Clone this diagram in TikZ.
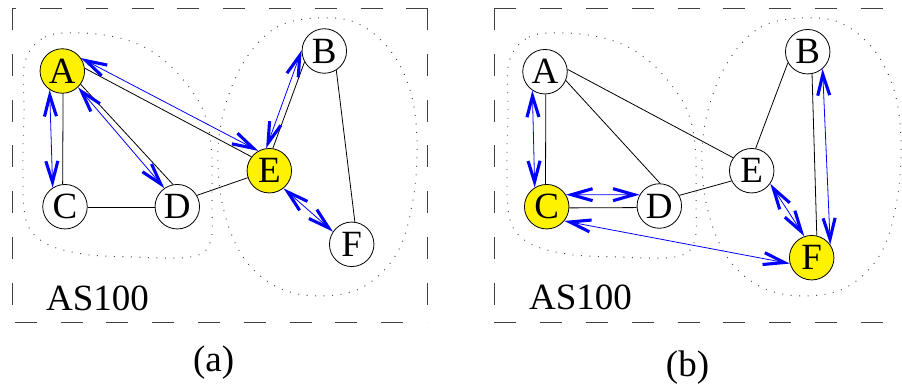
\documentclass[tikz,border=0pt]{standalone}
\usepackage{fontspec}
\setmainfont{Liberation Serif}
\usetikzlibrary{arrows.meta}
\tikzset{
  vnode/.style={circle, draw, line width=0.8pt, minimum size=44.5pt, inner sep=0pt,
                font=\fontsize{37}{37}\selectfont},
  hot/.style={vnode, fill=yellow},
  link/.style={line width=0.8pt},
  bhead/.tip={Straight Barb[length=21pt,width=12pt,line width=3.1pt]},
  barrow/.style={blue, line width=0.8pt, bhead-bhead},
  boxframe/.style={draw=black!75, line width=1pt, dash pattern=on 22pt off 23.8pt},
  cluster/.style={draw=black!70, line width=1pt, dash pattern=on 0.9pt off 7.6pt},
  lbl/.style={font=\fontsize{37}{37}\selectfont, inner sep=0pt, anchor=base west},
}
\begin{document}
\begin{tikzpicture}[x=1pt,y=-1pt]
\useasboundingbox (0,0) rectangle (902,389);

% ---------------- panel (a) ----------------
\draw[boxframe, dash phase=17.8pt] (12,8) -- (427,8);
\draw[boxframe] (12,8) -- (12,322);
\draw[boxframe, dash phase=43pt] (12,322) -- (427,322);
\draw[boxframe] (427,8) -- (427,322);

\draw[cluster] plot[smooth cycle, tension=0.6] coordinates {
 (25,62) (45,37) (83,33) (127,40) (160,57) (185,82) (203,110) (211,145)
 (212,200) (210,243) (190,257) (133,257) (83,254) (45,243) (26,220) (23,170) (24,110)};
\draw[cluster] plot[smooth cycle, tension=0.6] coordinates {
 (247,57) (277,27) (317,18) (357,23) (390,50) (410,90) (417,140) (413,200)
 (397,253) (363,287) (320,296) (277,287) (243,257) (223,207) (218,150) (227,100)};

\node[hot]   (A) at (62.3,71)    {A};
\node[vnode] (B) at (324.3,51)   {B};
\node[vnode] (C) at (65,206.7)   {C};
\node[vnode] (D) at (177.3,206.7){D};
\node[hot]   (E) at (269.3,170.7){E};
\node[vnode] (F) at (351.7,244.3){F};

\draw[link] (A.-88) -- (C.96);
\draw[link] (A.-36) -- (D.101);
\draw[link] (A.7) -- (E.142);
\draw[link] (C.-3) -- (D.183);
\draw[link] (D.30) -- (E.-162);
\draw[link] (E.81) -- (B.-151);
\draw[link] (B.-58) -- (F.82);

\draw[barrow] (A.-124) -- (C.123);
\draw[barrow] (A.-46) -- (D.125);
\draw[barrow] (A.35) -- (E.119);
\draw[barrow] (E.98) -- (B.178);
\draw[barrow] (E.-51) -- (F.146);

\node[lbl] (asa) at (46,310) {AS100};
\node[lbl, anchor=base] (capa) at (213.7,371.6) {(a)};

% ---------------- panel (b) ----------------
\draw[boxframe] (494.3,8) -- (920,8);
\draw[boxframe] (494.3,8) -- (494.3,322);
\draw[boxframe] (494.3,322) -- (920,322);

\begin{scope}[xshift=484pt]
\draw[cluster] plot[smooth cycle, tension=0.6] coordinates {
 (25,62) (45,37) (83,33) (127,40) (160,57) (185,82) (203,110) (211,145)
 (212,200) (210,243) (190,257) (133,257) (83,254) (45,243) (26,220) (23,170) (24,110)};
\draw[cluster] plot[smooth cycle, tension=0.6] coordinates {
 (247,57) (277,27) (317,18) (357,23) (390,50) (410,90) (417,140) (413,200)
 (397,253) (363,287) (320,296) (277,287) (243,257) (223,207) (218,150) (227,100)};
\end{scope}

\node[vnode] (A2) at (545,71.7)   {A};
\node[vnode] (B2) at (807.7,51.7) {B};
\node[hot]   (C2) at (546.7,206.7){C};
\node[vnode] (D2) at (659.3,206)  {D};
\node[vnode] (E2) at (751.7,170.7){E};
\node[hot]   (F2) at (811.7,257.7){F};

\draw[link] (A2.-88) -- (C2.93);
\draw[link] (A2.-23) -- (D2.88);
\draw[link] (A2.6) -- (E2.145);
\draw[link] (C2.-3) -- (D2.-176);
\draw[link] (D2.28) -- (E2.-153);
\draw[link] (E2.80) -- (B2.-151);
\draw[link] (B2.-79) -- (F2.77);

\draw[barrow] (A2.-124) -- (C2.122);
\draw[barrow] (C2.32) -- (D2.150);
\draw[barrow] (C2.-39) -- (F2.-165);
\draw[barrow] (E2.-35) -- (F2.109);
\draw[barrow] (B2.-49) -- (F2.35);

\node[lbl] (asb) at (529,309.3) {AS100};
\node[lbl, anchor=base] (capb) at (687.5,376.6) {(b)};
\end{tikzpicture}
\end{document}
